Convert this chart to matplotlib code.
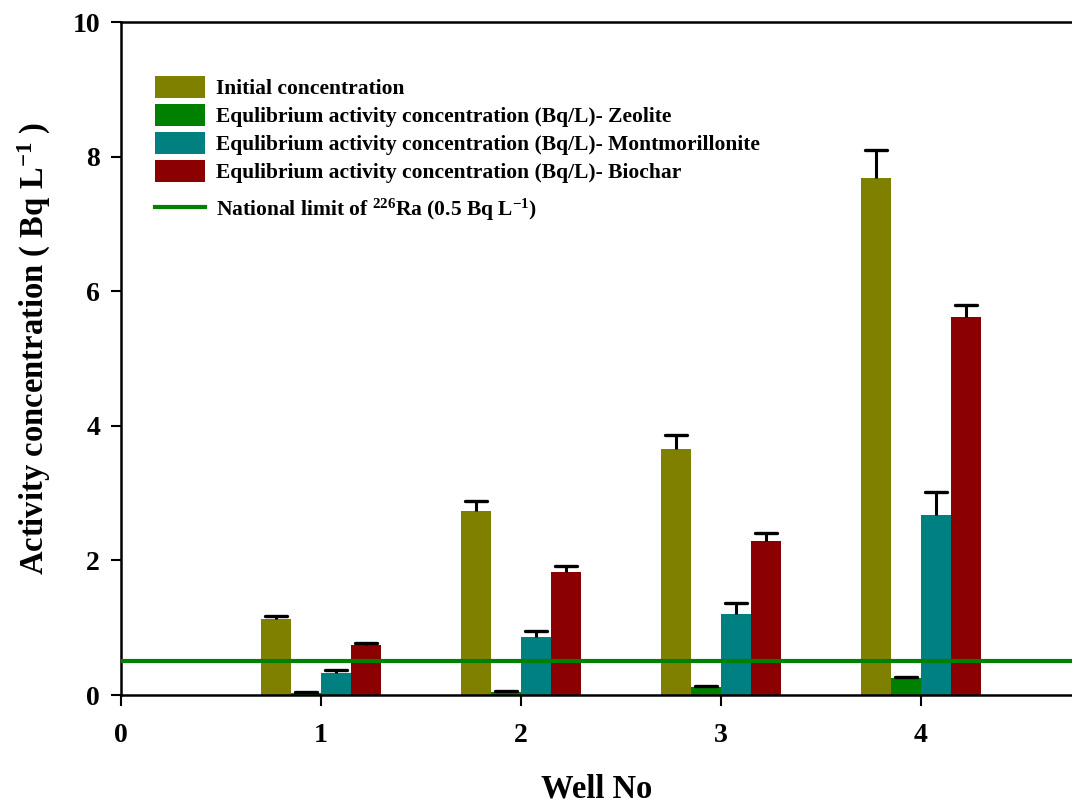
import matplotlib
matplotlib.use("Agg")
import matplotlib.pyplot as plt
import numpy as np
from matplotlib.patches import Patch
from matplotlib.lines import Line2D

plt.rcParams['font.family'] = ['Liberation Serif', 'DejaVu Serif']
plt.rcParams['font.weight'] = 'bold'
plt.rcParams['mathtext.fontset'] = 'custom'
plt.rcParams['mathtext.rm'] = 'Liberation Serif:bold'
plt.rcParams['mathtext.bf'] = 'Liberation Serif:bold'
plt.rcParams['mathtext.it'] = 'Liberation Serif:bold'
plt.rcParams['mathtext.default'] = 'rm'

wells = [1, 2, 3, 4]
initial = [1.13, 2.73, 3.66, 7.68]
initial_err = [0.05, 0.15, 0.20, 0.42]
zeolite = [0.03, 0.05, 0.12, 0.25]
zeolite_err = [0.01, 0.01, 0.02, 0.02]
montmor = [0.33, 0.86, 1.20, 2.68]
montmor_err = [0.04, 0.09, 0.16, 0.34]
biochar = [0.74, 1.83, 2.29, 5.62]
biochar_err = [0.03, 0.09, 0.11, 0.18]
limit = 0.5

series = [
    (initial, initial_err, '#808000', 'Initial concentration'),
    (zeolite, zeolite_err, '#008000', 'Equlibrium activity concentration (Bq/L)- Zeolite'),
    (montmor, montmor_err, '#008080', 'Equlibrium activity concentration (Bq/L)- Montmorillonite'),
    (biochar, biochar_err, '#8B0000', 'Equlibrium activity concentration (Bq/L)- Biochar'),
]

fig = plt.figure(figsize=(10.72, 8.05), dpi=100)
ax = fig.add_axes([121/1072, 1-695/805, 1-121/1072, (695-22)/805])

w = 0.15
cap = 0.055
offsets = [-1.5, -0.5, 0.5, 1.5]
x = np.array(wells, dtype=float)
handles = []
for (vals, errs, col, lab), off in zip(series, offsets):
    xs = x + off * w
    v = np.array(vals)
    top = v + np.array(errs)
    ax.bar(xs, v, width=w, color=col, edgecolor='none', zorder=2)
    ax.vlines(xs, v, top, color='black', lw=2.2, zorder=3)
    ax.hlines(top, xs - cap, xs + cap, color='black', lw=2.4, zorder=3,
              capstyle='round')
    handles.append(Patch(facecolor=col, edgecolor='none', label=lab))

ax.axhline(limit, color='#008000', lw=3, zorder=4)
line_handle = Line2D([], [], color='#008000', lw=3,
                     label=r'National limit of $^{226}$Ra (0.5 Bq L$^{-1}$)')

ax.set_xlim(0, (1072 - 121) / 200)
ax.set_ylim(0, 10)
ax.set_xticks([0, 1, 2, 3, 4])
ax.set_yticks([0, 2, 4, 6, 8, 10])
ax.tick_params(axis='y', direction='out', length=7, width=1.5, pad=8, labelsize=20)
ax.tick_params(axis='x', direction='out', length=8, width=1.5, pad=12, labelsize=20)
for lab in ax.get_xticklabels() + ax.get_yticklabels():
    lab.set_fontweight('bold')
for s in ['left', 'bottom', 'top']:
    ax.spines[s].set_linewidth(1.8)
ax.spines['right'].set_visible(False)

ax.set_ylabel(r'Activity concentration ( Bq L$^{-1}$ )', fontsize=23.5, fontweight='bold')
ax.yaxis.set_label_coords(-68/951, 0.515)
ax.set_xlabel('Well No', fontsize=23.5, fontweight='bold')
ax.xaxis.set_label_coords(0.5, -78/673)

leg = ax.legend(handles=handles, loc='upper left', bbox_to_anchor=(34/951, 1 - 54/673),
                frameon=False, fontsize=15.5, handlelength=2.3, handleheight=1.2,
                handletextpad=0.55, labelspacing=0.22, borderaxespad=0, borderpad=0)
for t in leg.get_texts():
    t.set_fontweight('bold')
ax.add_artist(leg)

leg2 = ax.legend(handles=[line_handle], loc='upper left',
                 bbox_to_anchor=(34/951, 1 - 175/673),
                 frameon=False, fontsize=15.5, handlelength=2.3, handleheight=1.2,
                 handletextpad=0.55, borderaxespad=0, borderpad=0)
for t in leg2.get_texts():
    t.set_fontweight('bold')

fig.savefig('out.png', dpi=100)
